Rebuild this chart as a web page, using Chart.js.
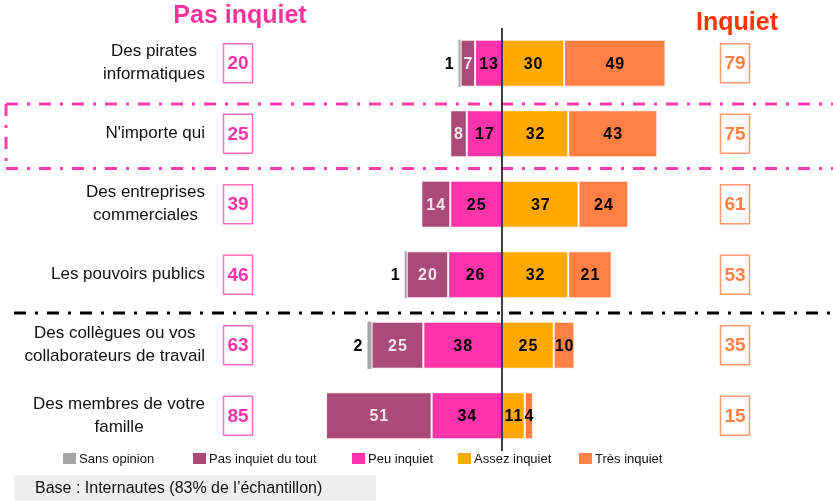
<!DOCTYPE html>
<html>
<head>
<meta charset="utf-8">
<script src="https://cdn.jsdelivr.net/npm/chart.js@4/dist/chart.umd.min.js"></script>
<style>
  html, body { margin: 0; padding: 0; background: #fff; }
  #wrap { position: relative; width: 833px; height: 501px; }
</style>
</head>
<body>
<div id="wrap"><canvas id="chart" width="833" height="501"></canvas></div>
<script>
    // Rows of the survey
    const categories = [
        ['Des pirates', 'informatiques'],
        ["N'importe qui"],
        ['Des entreprises', 'commerciales'],
        ['Les pouvoirs publics'],
        ['Des collègues ou vos', 'collaborateurs de travail'],
        ['Des membres de votre', 'famille']
    ];

    // Answer shares (%)
    const sansOpinion = [1, 0, 0, 1, 2, 0];
    const pasInquietDuTout = [7, 8, 14, 20, 25, 51];
    const peuInquiet = [13, 17, 25, 26, 38, 34];
    const assezInquiet = [30, 32, 37, 32, 25, 11];
    const tresInquiet = [49, 43, 24, 21, 10, 4];

    // Totals shown in the side boxes
    const totalPasInquiet = [20, 25, 39, 46, 63, 85];
    const totalInquiet = [79, 75, 61, 53, 35, 15];

    const legendLabels = ['Sans opinion', 'Pas inquiet du tout', 'Peu inquiet', 'Assez inquiet', 'Très inquiet'];
    const colors = {
        sans: '#A6A6A6',
        pasDuTout: '#A94A78',
        peu: '#FF33AA',
        assez: '#FFA800',
        tres: '#FF7F45'
    };

    const FONT = '"Liberation Sans", Arial, sans-serif';
    const neg = arr => arr.map(v => -v);

    // Dash-dot lines, box totals, labels, legend and base note
    const decorations = {
        id: 'decorations',
        beforeDatasetsDraw(chart) {
            const ctx = chart.ctx;
            ctx.save();
            // pink frame around "N'importe qui"
            ctx.strokeStyle = '#FF3CAA';
            ctx.lineWidth = 3;
            ctx.setLineDash([12, 9, 3, 9]);
            ctx.beginPath();
            ctx.moveTo(6, 104); ctx.lineTo(833, 104);
            ctx.moveTo(6, 168.5); ctx.lineTo(833, 168.5);
            ctx.moveTo(6, 104); ctx.lineTo(6, 168.5);
            ctx.stroke();
            // black separator
            ctx.strokeStyle = '#000';
            ctx.beginPath();
            ctx.moveTo(14, 313); ctx.lineTo(833, 313);
            ctx.stroke();
            ctx.restore();
        },
        afterDatasetsDraw(chart) {
            const ctx = chart.ctx;
            const area = chart.chartArea;
            const x = chart.scales.x;
            const y = chart.scales.y;
            ctx.save();

            // value labels
            ctx.font = 'bold 16px ' + FONT;
            ctx.letterSpacing = '1px';
            ctx.textBaseline = 'middle';
            chart.data.datasets.forEach((ds, d) => {
                const meta = chart.getDatasetMeta(d);
                meta.data.forEach((bar, i) => {
                    const v = Math.abs(ds.data[i]);
                    if (!v) return;
                    if (ds.outside) {
                        ctx.textAlign = 'right';
                        ctx.fillStyle = '#000';
                        ctx.fillText(String(v), Math.min(bar.x, bar.base) - 4, bar.y + 1);
                    } else {
                        ctx.textAlign = 'center';
                        ctx.fillStyle = ds.labelColor;
                        ctx.fillText(String(v), (bar.x + bar.base) / 2 + 0.5, bar.y + 1);
                    }
                });
            });
            ctx.letterSpacing = '0px';

            // zero line
            const x0 = x.getPixelForValue(0);
            ctx.strokeStyle = '#000';
            ctx.lineWidth = 1.5;
            ctx.beginPath();
            ctx.moveTo(x0, area.top);
            ctx.lineTo(x0, area.bottom);
            ctx.stroke();

            // category labels and total boxes
            categories.forEach((lines, i) => {
                const cy = y.getPixelForValue(i);
                ctx.font = '17px ' + FONT;
                ctx.fillStyle = '#111';
                ctx.textAlign = 'center';
                const w = Math.max(...lines.map(l => ctx.measureText(l).width));
                const cx = 205 - w / 2;
                const lh = 23;
                lines.forEach((l, k) => {
                    ctx.fillText(l, cx, cy + (k - (lines.length - 1) / 2) * lh);
                });

                ctx.lineWidth = 1.5;
                ctx.strokeStyle = '#FF6EC0';
                ctx.strokeRect(223.5, cy - 19.5, 29, 39);
                ctx.strokeStyle = '#FF9A70';
                ctx.strokeRect(720.5, cy - 19.5, 29, 39);
                ctx.font = 'bold 19px ' + FONT;
                ctx.fillStyle = '#FF33A6';
                ctx.fillText(String(totalPasInquiet[i]), 238, cy + 1);
                ctx.fillStyle = '#FF7F45';
                ctx.fillText(String(totalInquiet[i]), 735, cy + 1);
            });

            // headings
            ctx.font = 'bold 25px ' + FONT;
            ctx.fillStyle = '#FF3399';
            ctx.fillText('Pas inquiet', 240, 16);
            ctx.fillStyle = '#FF3300';
            ctx.fillText('Inquiet', 737, 23);

            // legend
            const legendX = [63, 193, 352, 458, 579];
            const legendC = [colors.sans, colors.pasDuTout, colors.peu, colors.assez, colors.tres];
            ctx.font = '13px ' + FONT;
            ctx.textAlign = 'left';
            legendLabels.forEach((t, k) => {
                ctx.fillStyle = legendC[k];
                ctx.fillRect(legendX[k], 453, 13, 11);
                ctx.fillStyle = '#111';
                ctx.fillText(t, legendX[k] + 16, 459);
            });

            // base note
            ctx.fillStyle = '#EEEEEE';
            ctx.fillRect(14, 475, 362, 26);
            ctx.fillStyle = '#111';
            ctx.font = '16px ' + FONT;
            ctx.fillText('Base : Internautes (83% de l\u2019échantillon)', 35, 489);

            ctx.restore();
        }
    };

    const barOpts = {
        borderColor: 'rgba(255, 235, 240, 0.9)',
        borderWidth: 1,
        borderSkipped: false,
        barPercentage: 0.67,
        categoryPercentage: 1
    };

    new Chart(document.getElementById('chart').getContext('2d'), {
        type: 'bar',
        data: {
            labels: categories,
            datasets: [
                { label: legendLabels[2], data: neg(peuInquiet), backgroundColor: colors.peu, labelColor: '#000', ...barOpts },
                { label: legendLabels[1], data: neg(pasInquietDuTout), backgroundColor: colors.pasDuTout, labelColor: '#F2E6EC', ...barOpts },
                { label: legendLabels[0], data: neg(sansOpinion), backgroundColor: colors.sans, outside: true, ...barOpts, borderWidth: 0 },
                { label: legendLabels[3], data: assezInquiet, backgroundColor: colors.assez, labelColor: '#000', ...barOpts },
                { label: legendLabels[4], data: tresInquiet, backgroundColor: colors.tres, labelColor: '#000', ...barOpts }
            ]
        },
        options: {
            indexAxis: 'y',
            responsive: false,
            animation: false,
            layout: { padding: { left: 295, right: 124, top: 28, bottom: 50 } },
            scales: {
                x: { stacked: true, min: -100, max: 100, display: false },
                y: { stacked: true, display: false }
            },
            plugins: {
                legend: { display: false },
                tooltip: { enabled: false }
            }
        },
        plugins: [decorations]
    });
</script>
</body>
</html>
